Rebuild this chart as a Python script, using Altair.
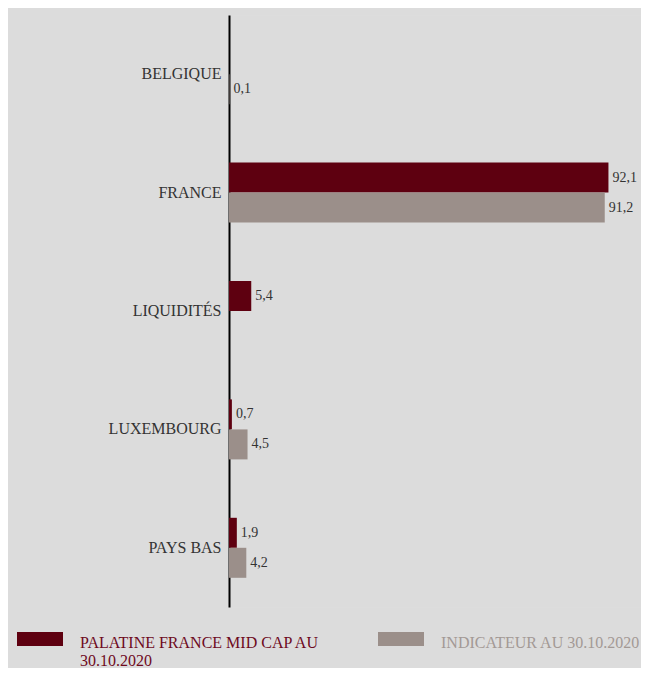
import altair as alt
import pandas as pd

categories = ["BELGIQUE", "FRANCE", "LIQUIDITÉS", "LUXEMBOURG", "PAYS BAS"]
series = ["PALATINE FRANCE MID CAP AU 30.10.2020", "INDICATEUR AU 30.10.2020"]
fund_values = [None, 92.1, 5.4, 0.7, 1.9]
index_values = [0.1, 91.2, None, 4.5, 4.2]
colors = ["#5e0010", "#9b8f8a"]
label_colors = ["#6e0a1c", "#a39995"]

rows = []
for c, f, i in zip(categories, fund_values, index_values):
    if f is not None:
        rows.append({"country": c, "series": series[0], "value": f})
    if i is not None:
        rows.append({"country": c, "series": series[1], "value": i})
df = pd.DataFrame(rows)

FONT = "Liberation Serif"

y_enc = alt.Y(
    "country:N",
    sort=categories,
    scale=alt.Scale(paddingInner=0.493, paddingOuter=0.2465),
    axis=alt.Axis(
        title=None, ticks=False, labelPadding=8, labelFontSize=16, labelFont=FONT,
        labelColor="#333333", domainColor="#000000", domainWidth=2, labelLimit=300,
    ),
)
yoff = alt.YOffset("series:N", sort=series, scale=alt.Scale(paddingInner=0, paddingOuter=0))
x_enc = alt.X("value:Q", scale=alt.Scale(domain=[0, 100], nice=False), axis=None)

legend = alt.Legend(
    title=None, orient="none", direction="horizontal", legendX=-212, legendY=597,
    padding=0, symbolType="M-1,-0.13H1V0.478H-1Z", symbolSize=2116,
    symbolStrokeWidth=0, labelFont=FONT, labelFontSize=16, labelLimit=400,
    labelOffset=17, columnPadding=58,
    labelColor={"expr": f"datum.value == '{series[1]}' ? '{label_colors[1]}' : '{label_colors[0]}'"},
    labelExpr=(
        f"datum.label == '{series[0]}' ? ['PALATINE FRANCE MID CAP AU', '30.10.2020'] "
        f": [datum.label, ' ']"
    ),
    labelBaseline="top",
)

bars = alt.Chart(df).mark_bar(height=30).encode(
    y=y_enc,
    yOffset=yoff,
    x=x_enc,
    color=alt.Color("series:N", sort=series, scale=alt.Scale(domain=series, range=colors), legend=legend),
)

labels = alt.Chart(df).transform_calculate(
    txt="replace(format(datum.value, '.1f'), '.', ',')"
).mark_text(align="left", baseline="middle", dx=4, font=FONT, fontSize=14, color="#333333").encode(
    y=alt.Y("country:N", sort=categories),
    yOffset=alt.YOffset("series:N", sort=series),
    x="value:Q",
    text="txt:N",
)

chart = alt.layer(bars, labels).properties(
    width=412, height=592,
    background="#dcdcdc",
    autosize=alt.AutoSizeParams(type="none"),
    padding={"left": 221, "top": 7, "right": 0, "bottom": 61},
).configure_view(stroke=None).configure(font=FONT).configure_axis(labelFont=FONT)

chart.save("out.html", embed_options={"renderer": "svg", "actions": False})
